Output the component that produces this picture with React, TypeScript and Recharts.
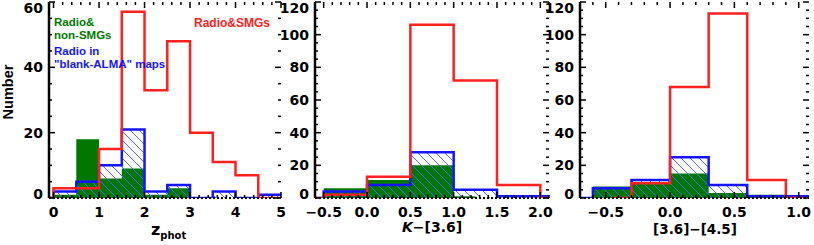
import React from 'react';
import { ComposedChart, Area, Line, XAxis, YAxis } from 'recharts';

// ---- Panel 1: z_phot ----
const zEdges = [-0.1, 0, 0.5, 1, 1.5, 2, 2.5, 3, 3.5, 4, 4.5, 5];
const zSMG = [0, 3, 3, 15, 57, 33, 48, 20, 11, 7, 0, 0];
const zNonSMG = [0, 1, 18, 6, 9, 1, 3, 0, 0, 0, 0, 0];
const zBlank = [0, 2, 5, 10, 21, 2, 4, 0, 2, 0, 1, 1];
const zTicks = [0, 1, 2, 3, 4, 5];
const zTickLabels = ['0', '1', '2', '3', '4', '5'];

// ---- Panel 2: K-[3.6] ----
const kEdges = [-0.6, -0.5, 0, 0.5, 1.0, 1.25, 1.5, 2.0, 2.1];
const kSMG = [0, 2, 13, 106, 72, 72, 8, 0, 0];
const kNonSMG = [0, 6, 11, 20, 1, 0, 0, 0, 0];
const kBlank = [0, 4, 8, 28, 5, 5, 1, 1, 1];
const kTicks = [-0.5, 0, 0.5, 1.0, 1.5, 2.0];
const kTickLabels = ['\u22120.5', '0.0', '0.5', '1.0', '1.5', '2.0'];

// ---- Panel 3: [3.6]-[4.5] ----
const cEdges = [-0.7, -0.6, -0.45, -0.3, 0, 0.3, 0.6, 0.9, 1.05, 1.08];
const cSMG = [null, null, 0, 9, 68, 113, 11, 0, 0, null];
const cNonSMG = [0, 7, 7, 9, 15, 3, 2, 0, 0, 0];
const cBlank = [0, 6, 6, 11, 25, 8, 1, 1, 1, 1];
const cTicks = [-0.5, 0, 0.5, 1.0];
const cTickLabels = ['\u22120.5', '0.0', '0.5', '1.0'];

const yTicks60 = [0, 20, 40, 60];
const yTicks120 = [0, 20, 40, 60, 80, 100, 120];

const RED = '#ff2020';
const GREEN = '#007800';
const BLUE = '#1414ff';

const PLOT_TOP = 2;
const PLOT_BOTTOM = 198;

function range(a: number, b: number, s: number) {
  const out: number[] = [];
  for (let v = a; v <= b + 1e-9; v += s) out.push(Math.round(v * 1000) / 1000);
  return out;
}

function toRows(edges: number[], red: (number | null)[], green: number[], blue: number[]) {
  return edges.map((x, i) => ({ x, red: red[i], green: green[i], blue: blue[i] }));
}

const tickFontFamily = 'DejaVu Sans';
const dotted = { stroke: '#000', strokeWidth: 2, strokeDasharray: '2 2' };

function majorIndex(list: number[], v: number) {
  for (let i = 0; i < list.length; i++) if (Math.abs(list[i] - v) < 1e-6) return i;
  return -1;
}

type PanelProps = {
  left: number;
  width: number;
  yw: number;
  mr: number;
  rows: any[];
  xDomain: [number, number];
  xTicks: number[];
  xLabels: string[];
  xMinor: number[];
  yMax: number;
  yTicks: number[];
  yMinor: number[];
  redFirst: boolean;
};

function Panel(p: PanelProps) {
  const plotLeft = p.yw;
  const plotRight = p.width - p.mr;

  const YTick = (props: any) => {
    const v = props.payload.value;
    const y = props.y;
    const mi = majorIndex(p.yTicks, v);
    const len = mi >= 0 ? 6 : 3;
    let dy = 5;
    if (mi === 0) dy = 1;
    if (mi === p.yTicks.length - 1) dy = 11;
    return (
      <g>
        <line x1={plotLeft} x2={plotLeft + len} y1={y} y2={y} stroke="#000" strokeWidth={1.5} />
        <line x1={plotRight - len} x2={plotRight} y1={y} y2={y} stroke="#000" strokeWidth={1.5} />
        {mi >= 0 && (
          <text x={plotLeft - 6} y={y} dy={dy} textAnchor="end" fontFamily={tickFontFamily} fontWeight="bold"
            fontSize={14} fill="#000">{String(v)}</text>
        )}
      </g>
    );
  };

  const XTick = (props: any) => {
    const v = props.payload.value;
    const x = props.x;
    const mi = majorIndex(p.xTicks, v);
    const len = mi >= 0 ? 6 : 3;
    return (
      <g>
        <line x1={x} x2={x} y1={PLOT_BOTTOM} y2={PLOT_BOTTOM - len} stroke="#000" strokeWidth={1.5} />
        <line x1={x} x2={x} y1={PLOT_TOP} y2={PLOT_TOP + len} stroke="#000" strokeWidth={1.5} />
        {mi >= 0 && (
          <text x={x} y={PLOT_BOTTOM + 19} textAnchor="middle" fontFamily={tickFontFamily} fontWeight="bold"
            fontSize={14} fill="#000">{p.xLabels[mi]}</text>
        )}
      </g>
    );
  };

  const red = (
    <Line key="red" xAxisId="m" yAxisId="m" dataKey="red" type="stepAfter" stroke={RED} strokeWidth={2.5}
      dot={false} activeDot={false} isAnimationActive={false} connectNulls={false} />
  );
  const green = (
    <Area key="green" xAxisId="m" yAxisId="m" dataKey="green" type="stepAfter" stroke="none" fill={GREEN}
      fillOpacity={1} dot={false} activeDot={false} isAnimationActive={false} />
  );
  const blue = (
    <Area key="blue" xAxisId="m" yAxisId="m" dataKey="blue" type="stepAfter" stroke={BLUE} strokeWidth={2.5}
      fill="url(#hatch)" fillOpacity={1} dot={false} activeDot={false} isAnimationActive={false} />
  );
  const series = p.redFirst ? [red, green, blue] : [green, red, blue];
  const allX = p.xMinor.concat(p.xTicks.filter((t) => majorIndex(p.xMinor, t) < 0)).sort((a, b) => a - b);
  const allY = p.yMinor;
  return (
    <div style={{ position: 'absolute', left: p.left, top: 0 }}>
      <ComposedChart width={p.width} height={245} data={p.rows}
        margin={{ top: PLOT_TOP, right: p.mr, bottom: 0, left: 0 }}>
        <XAxis xAxisId="m" dataKey="x" type="number" domain={p.xDomain} allowDataOverflow interval={0}
          ticks={allX} height={245 - PLOT_BOTTOM} axisLine={dotted} tickLine={false} tickSize={0}
          tick={<XTick />} />
        <XAxis xAxisId="top" orientation="top" dataKey="x" type="number" domain={p.xDomain} allowDataOverflow
          height={0} ticks={[]} axisLine={dotted} tickLine={false} tick={false} />
        <YAxis yAxisId="m" type="number" domain={[0, p.yMax]} allowDataOverflow interval={0} ticks={allY}
          width={p.yw} axisLine={{ stroke: '#000', strokeWidth: 2.5 }} tickLine={false} tickSize={0}
          tick={<YTick />} />
        <YAxis yAxisId="right" orientation="right" type="number" domain={[0, p.yMax]} allowDataOverflow
          width={0} ticks={[]} axisLine={dotted} tickLine={false} tick={false} />
        {series}
      </ComposedChart>
    </div>
  );
}

export default function App() {
  const lab = { fontFamily: 'Liberation Sans, Arial, sans-serif', fontWeight: 'bold' } as any;
  const dj = { fontFamily: 'DejaVu Sans', fontWeight: 'bold' } as any;
  return (
    <div style={{ position: 'absolute', left: 0, top: 0, width: 814, height: 245, background: '#fff', overflow: 'hidden' }}>
      <svg width="0" height="0" style={{ position: 'absolute' }}>
        <defs>
          <pattern id="hatch" patternUnits="userSpaceOnUse" width="9" height="9">
            <path d="M-1,-1 L10,10 M-1,8 L1,10 M8,-1 L10,1" stroke="#4a66ff" strokeWidth="1" />
          </pattern>
        </defs>
      </svg>
      <Panel left={0} width={290} yw={49} mr={9} rows={toRows(zEdges, zSMG, zNonSMG, zBlank)}
        xDomain={[-0.1, 5]} xTicks={zTicks} xLabels={zTickLabels} xMinor={range(0, 5, 0.2)}
        yMax={60} yTicks={yTicks60} yMinor={range(0, 60, 5)} redFirst={true} />
      <Panel left={265} width={293} yw={50} mr={9} rows={toRows(kEdges, kSMG, kNonSMG, kBlank)}
        xDomain={[-0.6, 2.1]} xTicks={kTicks} xLabels={kTickLabels} xMinor={range(-0.6, 2.1, 0.1)}
        yMax={120} yTicks={yTicks120} yMinor={range(0, 120, 5)} redFirst={false} />
      <Panel left={532} width={282} yw={48} mr={5} rows={toRows(cEdges, cSMG, cNonSMG, cBlank)}
        xDomain={[-0.7, 1.08]} xTicks={cTicks} xLabels={cTickLabels} xMinor={range(-0.7, 1.0, 0.1)}
        yMax={120} yTicks={yTicks120} yMinor={range(0, 120, 5)} redFirst={false} />
      <svg width={814} height={245} style={{ position: 'absolute', left: 0, top: 0, pointerEvents: 'none' }}>
        <text {...lab} fontSize={14.5} fill="#000" textAnchor="middle" transform="translate(13,92) rotate(-90)">Number</text>
        <text {...lab} fontSize={11.5} fill={GREEN} x={54} y={26}>Radio&amp;</text>
        <text {...lab} fontSize={11.5} fill={GREEN} x={54} y={38.5}>non-SMGs</text>
        <text {...lab} fontSize={11.5} fill={BLUE} x={54} y={55}>Radio in</text>
        <text {...lab} fontSize={11.5} fill={BLUE} x={54} y={68}>"blank-ALMA" maps</text>
        <text {...lab} fontSize={12} fill={RED} x={270} y={26.5} textAnchor="end">Radio&amp;SMGs</text>
        <text {...dj} fontSize={16} fill="#000" x={151} y={235}>z<tspan fontSize={10} dy={4}>phot</tspan></text>
        <text {...dj} fontSize={14} fill="#000" x={432} y={232} textAnchor="middle"><tspan fontStyle="italic">K</tspan>{'\u2212[3.6]'}</text>
        <text {...dj} fontSize={13.5} fill="#000" x={695} y={234} textAnchor="middle">{'[3.6]\u2212[4.5]'}</text>
      </svg>
    </div>
  );
}
